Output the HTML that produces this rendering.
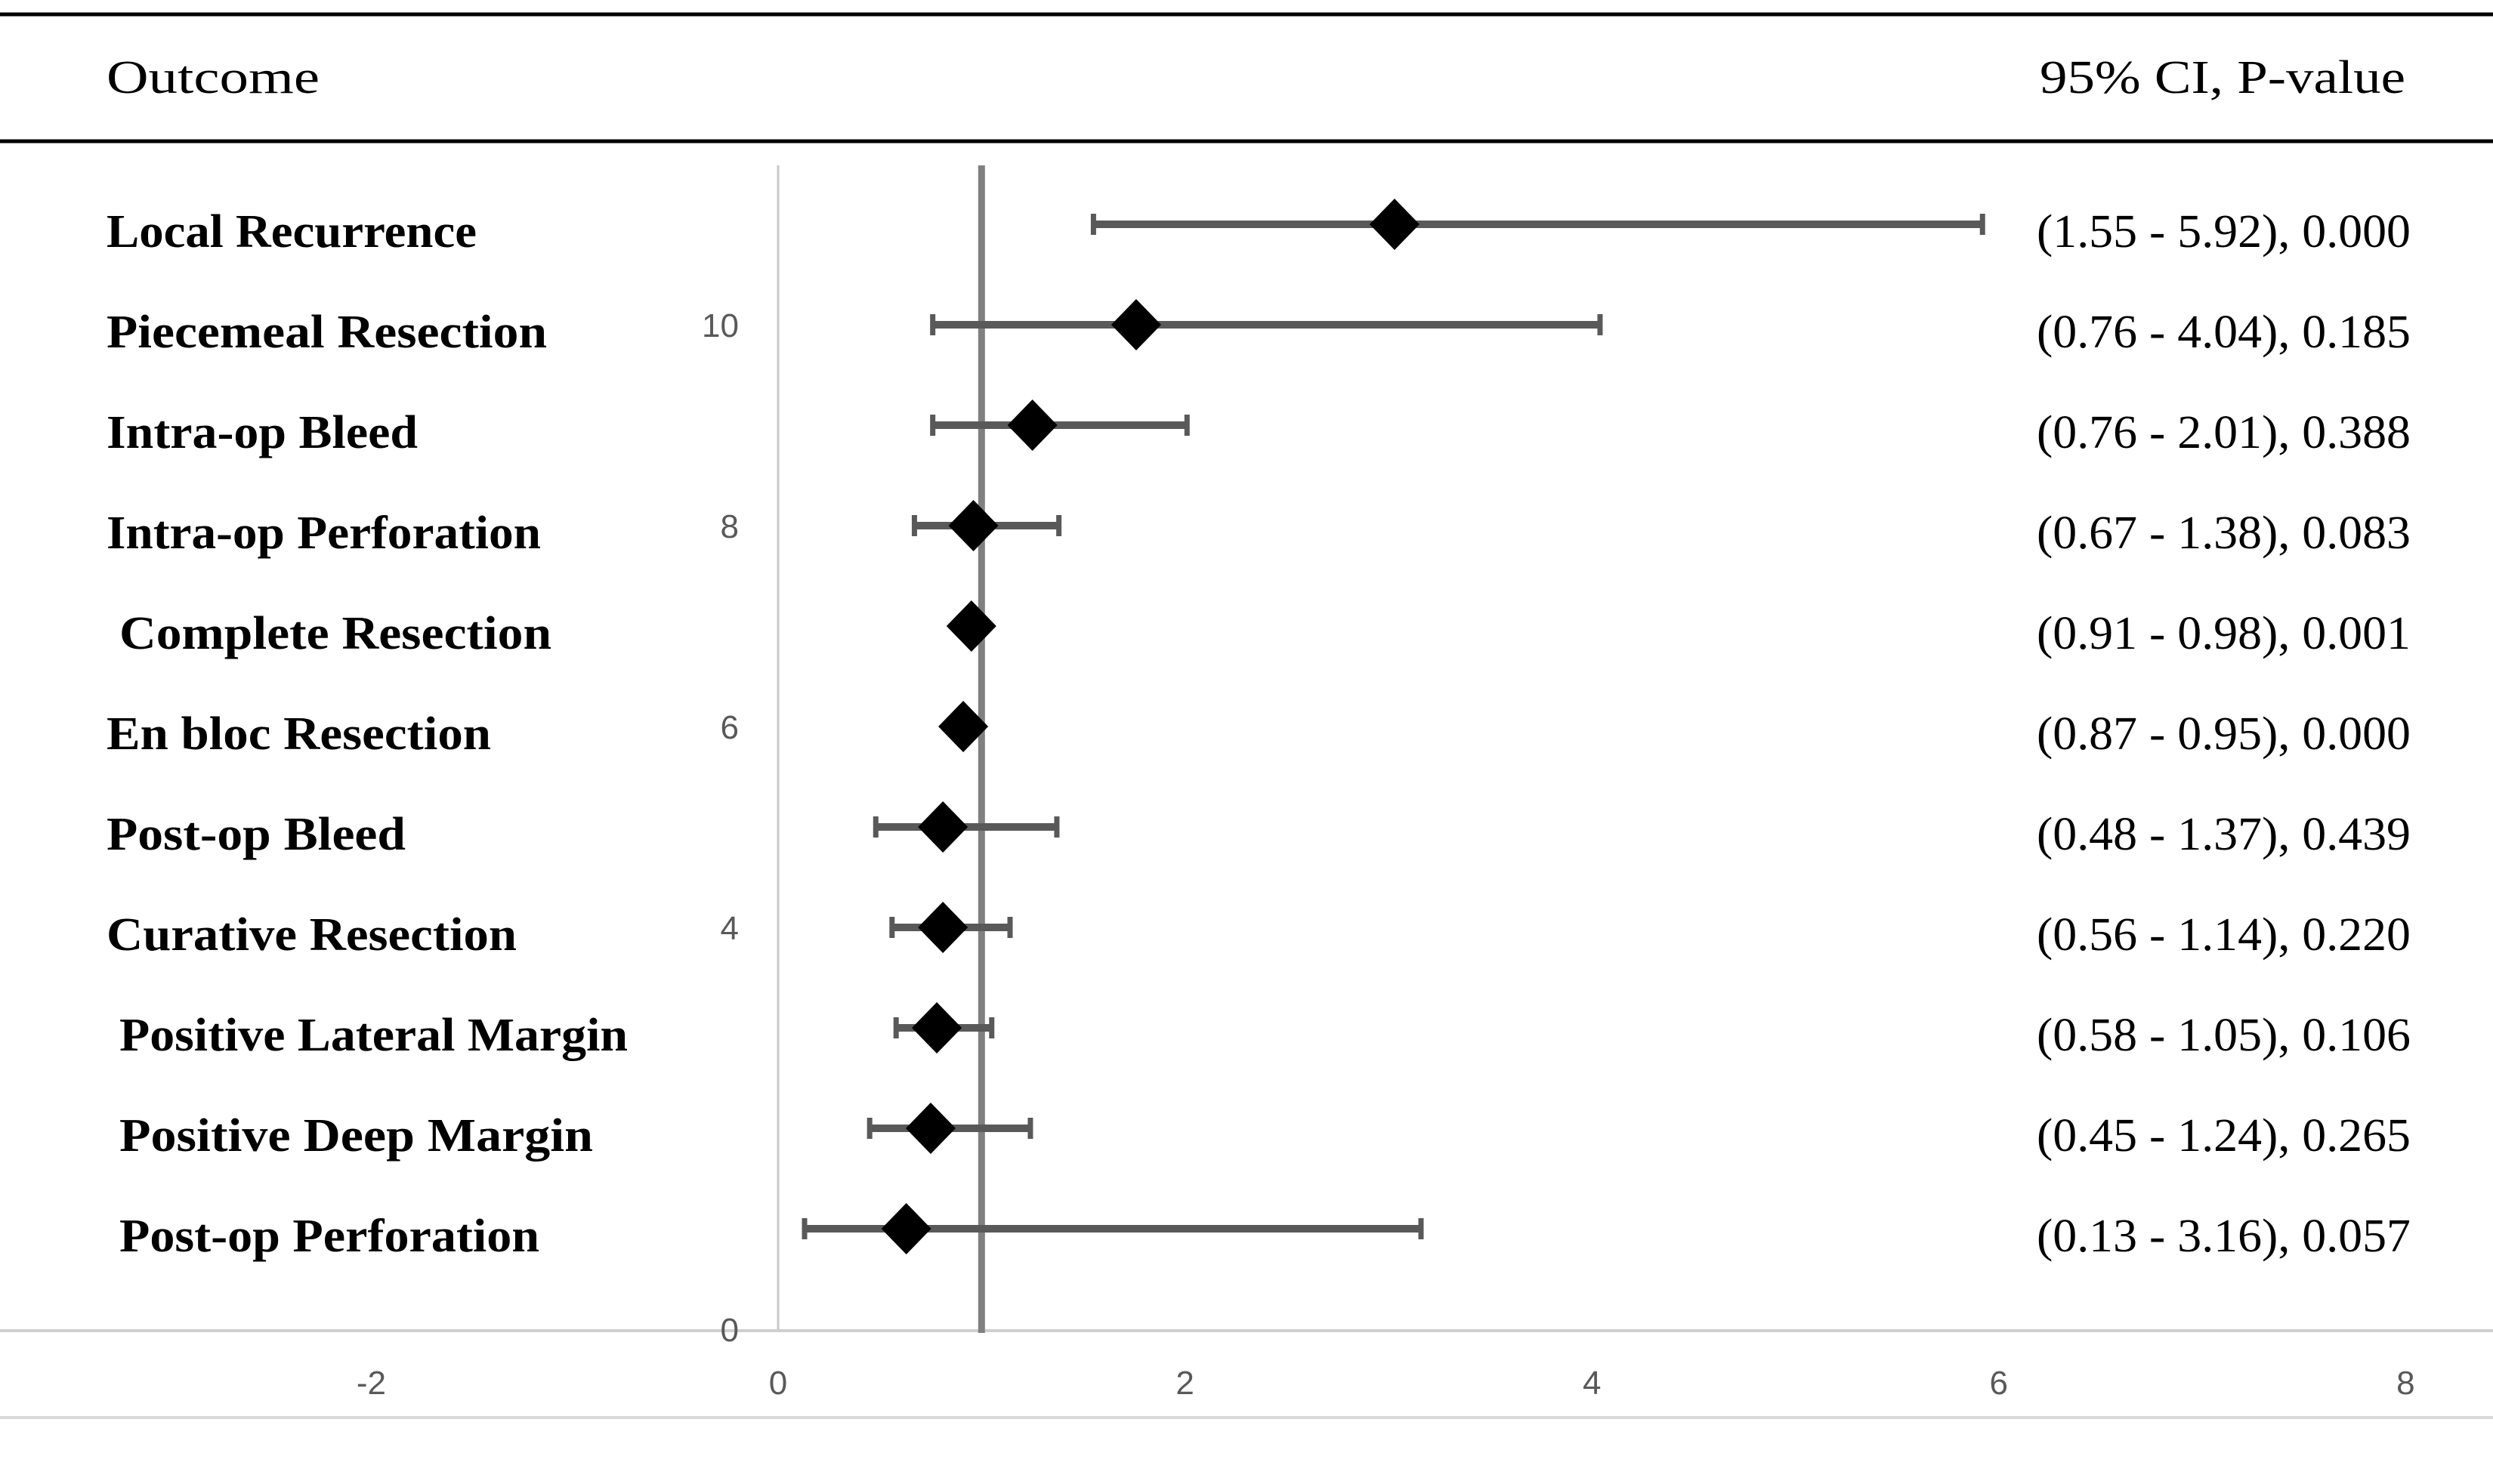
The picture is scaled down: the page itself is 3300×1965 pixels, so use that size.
<!DOCTYPE html>
<html><head><meta charset="utf-8"><style>html,body{margin:0;padding:0;background:#fff}svg{display:block}</style></head>
<body>
<svg id="chart" width="3300" height="1965" viewBox="0 0 3300 1965" xmlns="http://www.w3.org/2000/svg">
<line x1="0" y1="19" x2="3300" y2="19" stroke="#000" stroke-width="5"/>
<line x1="0" y1="187" x2="3300" y2="187" stroke="#000" stroke-width="5"/>
<text x="141" y="123" font-family="Liberation Serif, serif" font-size="62" textLength="282" lengthAdjust="spacingAndGlyphs">Outcome</text>
<text x="2700" y="123" font-family="Liberation Serif, serif" font-size="62" textLength="484" lengthAdjust="spacingAndGlyphs">95% CI, P-value</text>
<line x1="0" y1="1877" x2="3300" y2="1877" stroke="#d9d9d9" stroke-width="4"/>
<g id="plot"></g>
</svg>
<script>
const labels = ["Local Recurrence","Piecemeal Resection","Intra-op Bleed","Intra-op Perforation"," Complete Resection","En bloc Resection","Post-op Bleed","Curative Resection"," Positive Lateral Margin"," Positive Deep Margin"," Post-op Perforation"];
const means = [3.03,1.76,1.25,0.96,0.95,0.91,0.81,0.81,0.78,0.75,0.63];
const lower = [1.55,0.76,0.76,0.67,0.91,0.87,0.48,0.56,0.58,0.45,0.13];
const upper = [5.92,4.04,2.01,1.38,0.98,0.95,1.37,1.14,1.05,1.24,3.16];
const ciText = ["(1.55 - 5.92), 0.000","(0.76 - 4.04), 0.185","(0.76 - 2.01), 0.388","(0.67 - 1.38), 0.083","(0.91 - 0.98), 0.001","(0.87 - 0.95), 0.000","(0.48 - 1.37), 0.439","(0.56 - 1.14), 0.220","(0.58 - 1.05), 0.106","(0.45 - 1.24), 0.265","(0.13 - 3.16), 0.057"];
const rowY = [11,10,9,8,7,6,5,4,3,2,1];
const labelWidths = [490,583,412,575,572,509,396,543,673,627,556];
const xTicks = [-2,0,2,4,6,8];
const yTicks = [0,4,6,8,10];
const refValue = 1;

const NS = "http://www.w3.org/2000/svg";
const X = v => 1030 + v * 269.3;
const Y = v => 1760 - v * 133;
const g = document.getElementById('plot');
function mk(tag, attrs){ const e=document.createElementNS(NS,tag); for(const k in attrs) e.setAttribute(k,attrs[k]); g.appendChild(e); return e; }

let e = mk('line',{x1:X(0),y1:219,x2:X(0),y2:Y(0),stroke:'#c8c8c8','stroke-width':3});


e = mk('line',{x1:0,y1:Y(0)+2,x2:3300,y2:Y(0)+2,stroke:'#cfcfcf','stroke-width':4});



xTicks.forEach(t=>{
  const el = mk('text',{x:X(t),y:1846,'text-anchor':'middle','font-family':'Liberation Sans, sans-serif','font-size':44,fill:'#595959'});
  el.textContent = t;
  
  
});
yTicks.forEach(t=>{
  const el = mk('text',{x:978,y:Y(t)+16,'text-anchor':'end','font-family':'Liberation Sans, sans-serif','font-size':44,fill:'#595959'});
  el.textContent = t;
  
  
});

e = mk('line',{x1:X(refValue),y1:219,x2:X(refValue),y2:Y(0)+5,stroke:'#808080','stroke-width':9});



labels.forEach((lab,i)=>{
  const y = Y(rowY[i]);
  const l = mk('text',{x:lab.startsWith(' ')?158:141,y:y+30,'font-family':'Liberation Serif, serif','font-weight':'bold','font-size':62,textLength:labelWidths[i],lengthAdjust:'spacingAndGlyphs'});
  l.textContent = lab.trim();
  
  
  const c = mk('text',{x:2696,y:y+30,'font-family':'Liberation Serif, serif','font-size':62,textLength:495,lengthAdjust:'spacingAndGlyphs'});
  c.textContent = ciText[i];
  
  
  const b = mk('line',{x1:X(lower[i]),y1:y,x2:X(upper[i]),y2:y,stroke:'#595959','stroke-width':10});
  
  
  [lower[i],upper[i]].forEach(v=>{
    const cap = mk('line',{x1:X(v),y1:y-14,x2:X(v),y2:y+14,stroke:'#595959','stroke-width':7});
    
    
  });
  const cx = X(means[i]);
  const d = mk('polygon',{points:`${cx},${y-34} ${cx+33},${y} ${cx},${y+34} ${cx-33},${y}`,fill:'#000'});
  
  
});
</script>
</body></html>
